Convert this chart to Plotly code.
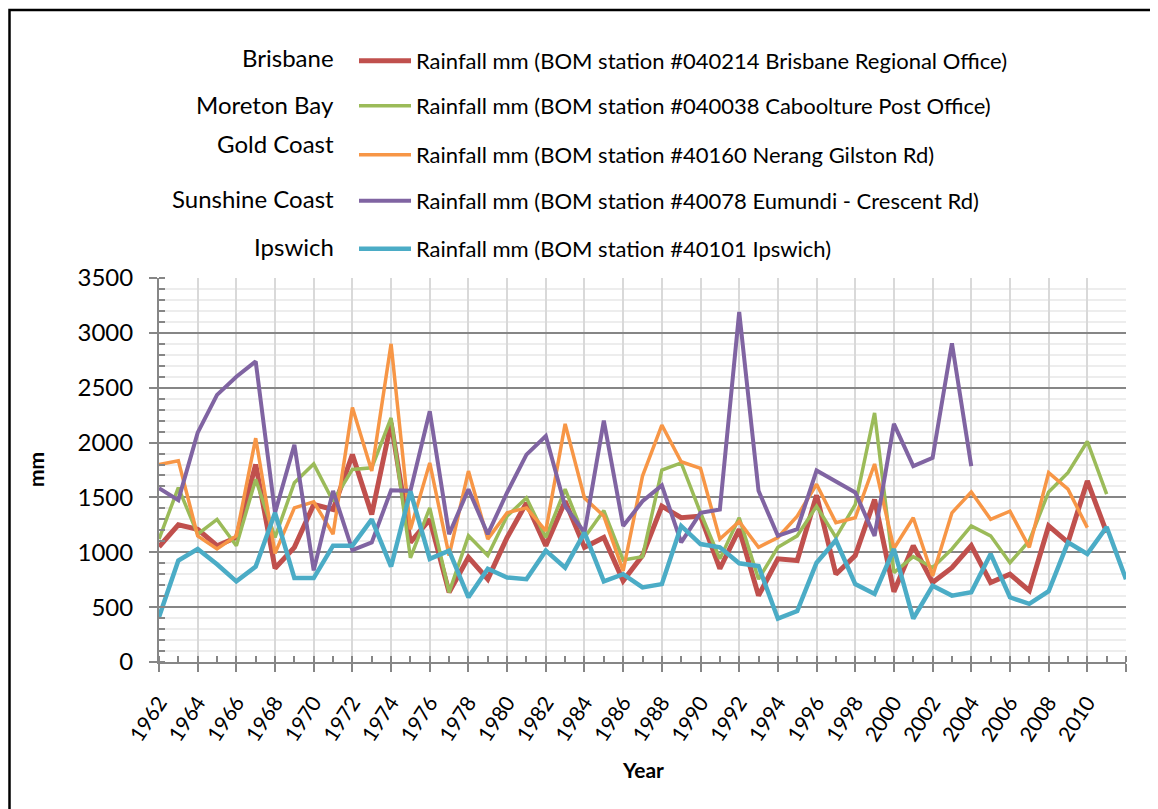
import plotly.graph_objects as go

# Annual rainfall (mm)
years = list(range(1962, 2013))

brisbane = [1050, 1250, 1210, 1060, 1135, 1800, 855, 1045, 1435, 1390,
            1890, 1345, 2180, 1090, 1300, 635, 955, 755, 1135, 1450,
            1060, 1465, 1045, 1135, 740, 970, 1420, 1315, 1330, 850,
            1210, 605, 940, 925, 1520, 800, 970, 1480, 640, 1060,
            725, 860, 1060, 725, 800, 650, 1240, 1090, 1650, 1180]

moreton_bay = [1120, 1590, 1165, 1300, 1060, 1665, 1135, 1635, 1805, 1465,
               1755, 1770, 2225, 950, 1405, 635, 1150, 970, 1330, 1495,
               1135, 1575, 1135, 1380, 930, 960, 1750, 1815, 1360, 940,
               1315, 755, 1045, 1150, 1420, 1135, 1435, 2270, 815, 960,
               860, 1030, 1240, 1150, 905, 1105, 1550, 1725, 2010, 1530]

gold_coast = [1800, 1835, 1150, 1030, 1150, 2040, 990, 1405, 1460, 1165,
              2320, 1740, 2900, 1210, 1815, 970, 1740, 1120, 1360, 1405,
              1195, 2170, 1495, 1330, 830, 1695, 2160, 1825, 1765, 1120,
              1280, 1045, 1135, 1330, 1620, 1270, 1315, 1805, 1035, 1315,
              785, 1360, 1550, 1300, 1375, 1045, 1725, 1575, 1225]

sunshine_coast = [1585, 1475, 2090, 2435, 2600, 2740, 1360, 1980, 835, 1560,
                  1020, 1090, 1565, 1560, 2285, 1165, 1575, 1165, 1545, 1890,
                  2060, 1420, 1180, 2200, 1240, 1465, 1610, 1090, 1360, 1390,
                  3190, 1560, 1150, 1210, 1745, 1640, 1545, 1150, 2170, 1785,
                  1860, 2905, 1785]

ipswich = [410, 925, 1030, 890, 735, 870, 1360, 765, 765, 1060,
           1060, 1300, 870, 1555, 940, 1015, 590, 850, 770, 755,
           1015, 860, 1180, 735, 800, 680, 710, 1240, 1075, 1045,
           900, 875, 395, 465, 905, 1110, 710, 620, 1030, 395,
           695, 605, 635, 985, 590, 530, 645, 1090, 985, 1230, 755]

regions = ["Brisbane", "Moreton Bay", "Gold Coast", "Sunshine Coast", "Ipswich"]
stations = [
    "Rainfall mm (BOM station #040214 Brisbane Regional Office)",
    "Rainfall mm (BOM station #040038 Caboolture Post Office)",
    "Rainfall mm (BOM station #40160 Nerang Gilston Rd)",
    "Rainfall mm (BOM station #40078 Eumundi - Crescent Rd)",
    "Rainfall mm (BOM station #40101 Ipswich)",
]
series = [brisbane, moreton_bay, gold_coast, sunshine_coast, ipswich]
colors = ["#C0504D", "#9BBB59", "#F79646", "#8064A2", "#4BACC6"]
widths = [5, 3.5, 3.5, 4, 4.5]

# page has an 8px body margin, so work in screen pixels and shift
OFF = 8
W, H = 1150, 801
left, right, top, bottom = 159, 1126, 278, 662   # plot area on screen
pw, ph = right - left, bottom - top

def px_x(x):
    return (x - left) / pw

def px_y(y):
    return (bottom - y) / ph

FONT = "Lato, Carlito, Calibri, sans-serif"

fig = go.Figure()

legend_rows = [61, 106, 155, 201, 249]
label_rows = [57, 104, 143, 199, 247]
legend_names = ["legend", "legend2", "legend3", "legend4", "legend5"]

for i, vals in enumerate(series):
    fig.add_trace(go.Scatter(
        x=years[:len(vals)], y=vals, mode="lines", name=stations[i],
        line=dict(color=colors[i], width=widths[i]),
        legend=legend_names[i], showlegend=True,
    ))

layout_legends = {}
for i, ln in enumerate(legend_names):
    layout_legends[ln] = dict(
        x=px_x(354), y=px_y(legend_rows[i]), xanchor="left", yanchor="middle",
        bgcolor="rgba(0,0,0,0)", borderwidth=0,
        font=dict(family=FONT, size=22, color="black"),
        itemwidth=52,
    )

annotations = []
for i, r in enumerate(regions):
    annotations.append(dict(
        text=r, x=px_x(336), y=px_y(label_rows[i]), xref="paper", yref="paper",
        xanchor="right", yanchor="middle", showarrow=False,
        font=dict(family=FONT, size=24, color="black"),
    ))

annotations.append(dict(
    text="<b>mm</b>", x=px_x(35), y=px_y(470), xref="paper", yref="paper",
    xanchor="center", yanchor="middle",
    textangle=-90, showarrow=False, font=dict(family=FONT, size=21, color="black"),
))
annotations.append(dict(
    text="<b>Year</b>", x=px_x(643), y=px_y(769), xref="paper", yref="paper",
    xanchor="center", yanchor="middle",
    showarrow=False, font=dict(family=FONT, size=21, color="black"),
))

tickvals = list(range(1962, 2013, 2))
ticktext = [str(v) if v < 2012 else "" for v in tickvals]

fig.update_layout(
    width=W, height=H,
    margin=dict(l=left - OFF, r=W - (right - OFF), t=top - OFF, b=H - (bottom - OFF)),
    paper_bgcolor="white", plot_bgcolor="white",
    font=dict(family=FONT, color="black"),
    annotations=annotations,
    shapes=[dict(
        type="rect", xref="paper", yref="paper",
        x0=px_x(9.5), x1=px_x(1170), y0=px_y(10), y1=px_y(830),
        line=dict(color="black", width=2.5), fillcolor="rgba(0,0,0,0)", layer="below",
    )],
    **layout_legends,
)

fig.update_xaxes(
    range=[1962, 2012], tickmode="array", tickvals=tickvals, ticktext=ticktext,
    tickangle=-57, tickfont=dict(family=FONT, size=21, color="black"),
    ticklabelstandoff=10,
    showgrid=True, gridcolor="#D9D9D9", gridwidth=1.5,
    showline=True, linecolor="#868686", linewidth=2,
    ticks="outside", ticklen=8, tickcolor="#868686", tickwidth=1.5,
    minor=dict(dtick=1, tick0=1963, ticks="inside", ticklen=6, tickcolor="#868686",
               tickwidth=1.5, showgrid=False),
    zeroline=False,
)
fig.update_yaxes(
    range=[0, 3500], tickmode="linear", dtick=500, tick0=0,
    tickfont=dict(family=FONT, size=24, color="black"),
    ticklabelstandoff=11,
    showgrid=True, gridcolor="#868686", gridwidth=1.5,
    showline=True, linecolor="#868686", linewidth=2,
    ticks="outside", ticklen=8, tickcolor="#868686", tickwidth=1.5,
    minor=dict(dtick=100, ticks="inside", ticklen=6, tickcolor="#868686",
               tickwidth=1.5, showgrid=True, gridcolor="#EDEDED", gridwidth=1.5),
    zeroline=False,
)

fig.write_html("out.html")
